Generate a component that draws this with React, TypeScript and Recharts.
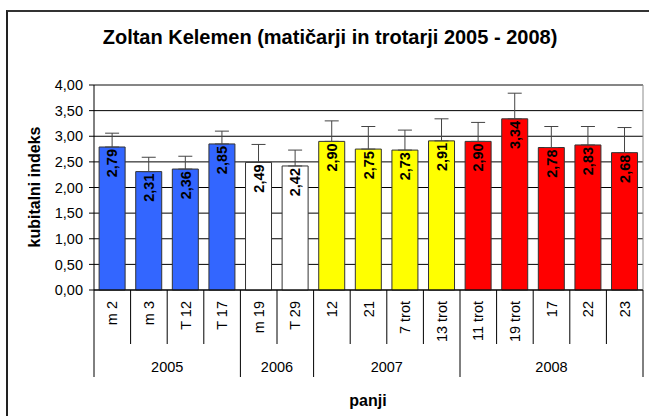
import { Bar, BarChart, CartesianGrid, Cell, ErrorBar, LabelList, XAxis, YAxis } from 'recharts';

const CATEGORIES = ['m 2', 'm 3', 'T 12', 'T 17', 'm 19', 'T 29', '12', '21', '7 trot', '13 trot', '11 trot', '19 trot', '17', '22', '23'];
const VALUES = [2.79, 2.31, 2.36, 2.85, 2.49, 2.42, 2.9, 2.75, 2.73, 2.91, 2.9, 3.34, 2.78, 2.83, 2.68];
// upper error only (Excel "plus" error bars)
const ERRORS = [0.27, 0.28, 0.25, 0.25, 0.35, 0.31, 0.4, 0.44, 0.39, 0.43, 0.37, 0.5, 0.41, 0.36, 0.49];
const YEARS = ['2005', '2006', '2007', '2008'];
const YEAR_COUNTS = [4, 2, 4, 5];
const YEAR_COLORS = ['#3366FF', '#FFFFFF', '#FFFF00', '#FF0000'];
const Y_TICKS = [0, 0.5, 1, 1.5, 2, 2.5, 3, 3.5, 4];

const W = 649;
const H = 416;
const MARGIN = { top: 85, right: 6, bottom: 39, left: 0 };
const Y_AXIS_W = 94;
const CAT_ROW_H = 54;
const X_AXIS_H = 87;
const FONT = "Arial, 'Liberation Sans', sans-serif";
const TICK_FS = 14.5;

const BAND = (W - MARGIN.left - MARGIN.right - Y_AXIS_W) / CATEGORIES.length;

// year index for every category, plus where each year group starts
const yearOf: number[] = [];
const groupStart: number[] = [];
YEAR_COUNTS.forEach((n, g) => {
  groupStart.push(yearOf.length);
  for (let i = 0; i < n; i++) yearOf.push(g);
});

const rows = CATEGORIES.map((cat, i) => ({
  cat,
  value: VALUES[i],
  err: [0, ERRORS[i]],
  color: YEAR_COLORS[yearOf[i]],
}));

const fmt = (v: number) => v.toFixed(2).replace('.', ',');

function CategoryTick(props: any) {
  const { x, y, payload, index } = props;
  const g = yearOf[index];
  const isGroupEnd = index === groupStart[g] + YEAR_COUNTS[g] - 1;
  const right = x + BAND / 2;
  const left = x - BAND / 2;
  return (
    <g>
      <text
        x={x}
        y={y + 11}
        dy="0.35em"
        textAnchor="end"
        transform={`rotate(-90 ${x} ${y + 11})`}
        fontSize={TICK_FS}
        fontFamily={FONT}
        fill="#000"
      >
        {payload.value}
      </text>
      <line x1={right} y1={y} x2={right} y2={y + (isGroupEnd ? X_AXIS_H : CAT_ROW_H)} stroke="#000" />
      {index === 0 && <line x1={left} y1={y} x2={left} y2={y + X_AXIS_H} stroke="#000" />}
      {index === groupStart[g] && (
        <text
          x={left + (YEAR_COUNTS[g] * BAND) / 2}
          y={y + 77}
          dy="0.35em"
          textAnchor="middle"
          fontSize={TICK_FS}
          fontFamily={FONT}
          fill="#000"
        >
          {YEARS[g]}
        </text>
      )}
    </g>
  );
}

function ValueLabel(props: any) {
  const { x, y, width, value } = props;
  const cx = x + width / 2;
  const ty = y + 2;
  return (
    <text
      x={cx}
      y={ty}
      dy="0.36em"
      textAnchor="end"
      transform={`rotate(-90 ${cx} ${ty})`}
      fontSize={TICK_FS}
      fontWeight="bold"
      fontFamily={FONT}
      fill="#000"
    >
      {fmt(value)}
    </text>
  );
}

export default function App() {
  return (
    <div style={styles.frame}>
      <div style={styles.border} />
      <div style={styles.title}>Zoltan Kelemen (matičarji in trotarji 2005 - 2008)</div>
      <div style={styles.yTitle}>kubitalni indeks</div>
      <div style={styles.xTitle}>panji</div>
      <div style={{ position: 'absolute', left: 0, top: 0 }}>
        <BarChart width={W} height={H} data={rows} margin={MARGIN} barCategoryGap="14%">
          <CartesianGrid vertical={false} stroke="#000" />
          <CartesianGrid
            stroke="#8c8c8c"
            horizontalCoordinatesGenerator={({ offset }: any) => [offset.top]}
            verticalCoordinatesGenerator={({ offset }: any) => [offset.left + offset.width]}
          />
          <XAxis
            dataKey="cat"
            height={X_AXIS_H}
            interval={0}
            tickSize={0}
            tickMargin={0}
            tickLine={false}
            axisLine={{ stroke: '#000' }}
            tick={<CategoryTick />}
          />
          <YAxis
            width={Y_AXIS_W}
            domain={[0, 4]}
            ticks={Y_TICKS}
            interval={0}
            tickFormatter={fmt}
            tickSize={5}
            tickMargin={6}
            tickLine={{ stroke: '#000' }}
            axisLine={{ stroke: '#000' }}
            tick={{ fontSize: TICK_FS, fill: '#000', fontFamily: FONT }}
          />
          <Bar dataKey="value" isAnimationActive={false} stroke="#333" strokeWidth={1}>
            {rows.map((r) => (
              <Cell key={r.cat} fill={r.color} />
            ))}
            <ErrorBar dataKey="err" direction="y" width={7} stroke="#444" strokeWidth={1} isAnimationActive={false} />
            <LabelList dataKey="value" content={<ValueLabel />} />
          </Bar>
        </BarChart>
      </div>
    </div>
  );
}

const styles: Record<string, React.CSSProperties> = {
  frame: {
    position: 'absolute',
    left: 0,
    top: 0,
    width: W,
    height: H,
    overflow: 'hidden',
    background: '#fff',
    fontFamily: FONT,
  },
  border: {
    position: 'absolute',
    left: 6,
    top: 10,
    width: 1000,
    height: 1000,
    borderLeft: '2px solid #222',
    borderTop: '2px solid #333',
  },
  title: {
    position: 'absolute',
    left: 330,
    top: 37,
    transform: 'translate(-50%, -50%)',
    whiteSpace: 'nowrap',
    fontSize: 20,
    fontWeight: 'bold',
  },
  yTitle: {
    position: 'absolute',
    left: 35,
    top: 187,
    transform: 'translate(-50%, -50%) rotate(-90deg)',
    whiteSpace: 'nowrap',
    fontSize: 16,
    fontWeight: 'bold',
  },
  xTitle: {
    position: 'absolute',
    left: 368,
    top: 401,
    transform: 'translate(-50%, -50%)',
    whiteSpace: 'nowrap',
    fontSize: 16,
    fontWeight: 'bold',
  },
};
